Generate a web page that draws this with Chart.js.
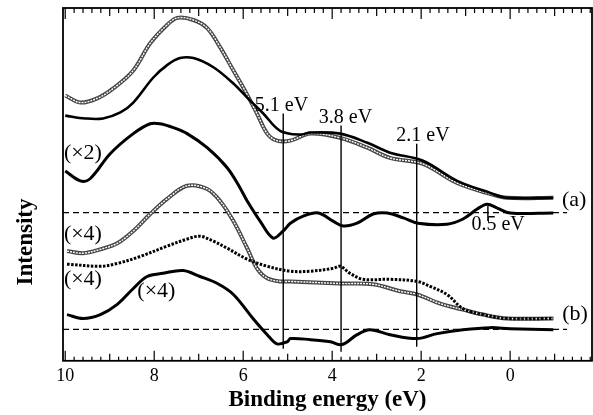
<!DOCTYPE html>
<html>
<head>
<meta charset="utf-8">
<script src="https://cdn.jsdelivr.net/npm/chart.js@4"></script>
<style>
  html, body { margin: 0; padding: 0; background: #fff; }
</style>
</head>
<body>
<canvas id="chart" width="593" height="415"></canvas>
<script>
// ===== Data (binding energy in eV, intensity in arb. units) =====
// (a) spectrum, open circles
const openA_E = [10.0, 9.66, 9.28, 8.92, 8.47, 8.09, 7.71, 7.48, 7.12, 6.81, 6.52, 6.22, 6.0, 5.69, 5.46, 5.24, 4.94, 4.49, 3.82, 3.21, 2.70, 1.96, 1.19, 0.45, 0.07, -0.97];
const openA_I = [75.2, 73.2, 74.4, 77.2, 82.3, 90.0, 95.2, 97.2, 96.6, 94.3, 88.9, 82.3, 77.5, 70.1, 64.4, 62.4, 62.4, 64.4, 63.2, 60.4, 57.5, 55.8, 50.4, 47.3, 46.2, 46.2];
// (a) spectrum, solid line
const solidA_E = [10.0, 9.55, 9.15, 8.76, 8.47, 8.02, 7.71, 7.42, 7.12, 6.67, 6.22, 5.91, 5.55, 5.17, 4.72, 4.49, 3.82, 3.21, 2.70, 1.96, 1.19, 0.45, 0.07, -0.97];
const solidA_I = [69.5, 68.7, 68.7, 70.4, 73.2, 80.3, 83.8, 85.8, 85.8, 83.2, 78.6, 74.6, 70.1, 65.2, 64.1, 64.7, 64.4, 61.8, 59.0, 56.7, 51.0, 47.6, 46.2, 46.2];
// (a) difference (x2)
const diffA_E = [10.0, 9.66, 9.44, 8.99, 8.47, 8.09, 7.87, 7.57, 7.26, 6.81, 6.36, 6.07, 5.91, 5.62, 5.33, 5.10, 4.94, 4.65, 4.31, 3.98, 3.75, 3.44, 3.08, 2.76, 2.40, 2.07, 1.42, 1.06, 0.74, 0.52, 0.29, 0.0, -0.97];
const diffA_I = [53.8, 51.0, 51.6, 58.7, 64.4, 67.2, 67.2, 66.1, 64.4, 60.4, 54.7, 49.0, 45.3, 39.6, 34.8, 36.8, 39.0, 41.0, 41.9, 39.6, 38.2, 39.0, 41.6, 41.9, 40.5, 39.0, 38.7, 40.2, 43.0, 44.4, 43.3, 41.9, 41.9];
// (b) spectrum, open circles (x4)
const openB_E = [9.96, 9.60, 9.21, 8.83, 8.47, 8.09, 7.71, 7.26, 6.81, 6.52, 6.22, 5.91, 5.69, 5.46, 5.17, 4.94, 3.82, 3.08, 2.47, 2.09, 1.57, 1.06, 0.61, 0.07, -0.97];
const openB_I = [31.1, 30.5, 31.6, 33.3, 36.8, 41.6, 45.9, 49.6, 48.7, 45.3, 39.6, 31.9, 26.2, 23.4, 22.5, 22.5, 21.9, 21.7, 19.7, 18.8, 16.2, 14.5, 13.1, 12.0, 12.0];
// (b) spectrum, dots (x4)
const dotB_E = [9.96, 9.21, 8.83, 8.31, 7.71, 7.26, 6.97, 6.67, 6.36, 5.91, 5.46, 4.94, 4.49, 3.98, 3.82, 3.60, 3.30, 2.70, 2.09, 1.80, 1.42, 1.06, 0.61, 0.07, -0.97];
const dotB_I = [27.4, 26.8, 27.6, 29.6, 32.5, 34.5, 35.3, 33.9, 31.9, 28.8, 26.8, 25.4, 25.4, 26.2, 26.8, 24.8, 23.1, 23.1, 22.5, 21.1, 18.8, 14.8, 13.1, 12.0, 12.0];
// (b) difference (x4)
const diffB_E = [9.96, 9.60, 9.21, 8.83, 8.47, 8.16, 7.80, 7.35, 6.97, 6.58, 6.22, 5.78, 5.46, 5.24, 5.01, 4.94, 4.49, 4.04, 3.78, 3.44, 3.15, 2.70, 2.09, 1.64, 1.06, 0.45, 0.0, -0.97];
const diffB_I = [13.1, 12.0, 13.1, 16.0, 20.5, 23.9, 24.8, 25.6, 23.9, 21.9, 18.8, 12.0, 7.4, 4.8, 5.4, 6.3, 6.0, 5.4, 4.6, 7.4, 8.8, 7.4, 6.3, 7.7, 8.8, 9.4, 9.1, 8.8];

// zero levels of the difference curves
const baseA = 42.0;
const baseB = 8.9;
const baseSpan = [10.05, -1.28];

// marked energies: [eV, bottom, top]
const markLines = [[5.1, 3.4, 70.1], [3.8, 2.6, 66.7], [2.1, 4.0, 61.5]];
const peakMark = [0.5, 39.6, 43.9];

// axis ticks every 0.2 eV, labels on even values
const tickVals = [];
for (let k = -9; k <= 50; k++) tickVals.push(k / 5);
const tickLabels = [10, 8, 6, 4, 2, 0];

const pts = (xs, ys) => xs.map((e, i) => ({ x: e, y: ys[i] }));

const serif = "'Liberation Serif', 'Times New Roman', serif";

// ===== Frame, inward ticks and annotations =====
const annotations = {
    id: 'annotations',
    afterDatasetsDraw(chart) {
        const { ctx, chartArea: a, scales: { x, y } } = chart;
        ctx.save();
        ctx.strokeStyle = '#000';
        ctx.lineWidth = 1.8;
        ctx.strokeRect(a.left, a.top, a.right - a.left, a.bottom - a.top);

        ctx.lineWidth = 1.2;
        tickVals.forEach(v => {
            const px = x.getPixelForValue(v);
            const n = Math.round(v * 5);
            let len = 4;
            if (n % 10 === 0) len = 10;
            else if (n % 5 === 0) len = 7;
            ctx.beginPath();
            ctx.moveTo(px, a.bottom);
            ctx.lineTo(px, a.bottom - len);
            ctx.moveTo(px, a.top);
            ctx.lineTo(px, a.top + len + 1);
            ctx.stroke();
        });

        ctx.fillStyle = '#000';
        const texts = [
            ['5.1 eV', 5.14, 70.7, 'center', 'alphabetic', 20],
            ['3.8 eV', 3.70, 67.5, 'center', 'alphabetic', 20],
            ['2.1 eV', 1.96, 62.4, 'center', 'alphabetic', 20],
            ['0.5 eV', 0.27, 37.0, 'center', 'alphabetic', 20],
            ['(a)', -1.44, 45.6, 'center', 'middle', 22],
            ['(b)', -1.46, 13.1, 'center', 'middle', 22],
            ['(\u00d72)', 10.03, 58.7, 'left', 'middle', 22],
            ['(\u00d74)', 10.03, 35.9, 'left', 'middle', 22],
            ['(\u00d74)', 10.03, 23.1, 'left', 'middle', 22],
            ['(\u00d74)', 8.38, 19.7, 'left', 'middle', 22]
        ];
        texts.forEach(([t, ev, v, al, bl, sz]) => {
            ctx.font = sz + 'px ' + serif;
            ctx.textAlign = al;
            ctx.textBaseline = bl;
            ctx.fillText(t, x.getPixelForValue(ev), y.getPixelForValue(v));
        });

        ctx.font = 'bold 23px ' + serif;
        ctx.translate(26, 242);
        ctx.rotate(-Math.PI / 2);
        ctx.textAlign = 'center';
        ctx.textBaseline = 'middle';
        ctx.fillText('Intensity', 0, 0);
        ctx.restore();
    }
};

const line = (data, color, width, extra) => Object.assign({
    data: data,
    borderColor: color,
    borderWidth: width,
    pointRadius: 0,
    tension: 0.35,
    fill: false
}, extra || {});

new Chart(document.getElementById('chart'), {
    type: 'line',
    data: {
        datasets: [
            line(pts(openA_E, openA_I), '#444444', 4, { order: 6 }),
            line(pts(openA_E, openA_I), '#ffffff', 1.4, { order: 5, borderDash: [2, 1] }),
            line(pts(solidA_E, solidA_I), '#000', 2.6, { order: 4 }),
            line(pts(diffA_E, diffA_I), '#000', 3, { order: 4 }),
            line(pts(openB_E, openB_I), '#444444', 4, { order: 6 }),
            line(pts(openB_E, openB_I), '#ffffff', 1.4, { order: 5, borderDash: [2, 1] }),
            line(pts(dotB_E, dotB_I), '#000', 3, { order: 3, borderDash: [2.5, 1.5] }),
            line(pts(diffB_E, diffB_I), '#000', 3, { order: 4 }),
            line(pts(baseSpan, [baseA, baseA]), '#000', 1.3, { order: 7, borderDash: [6, 4], tension: 0 }),
            line(pts(baseSpan, [baseB, baseB]), '#000', 1.3, { order: 7, borderDash: [6, 4], tension: 0 }),
            ...markLines.map(m => line(pts([m[0], m[0]], [m[1], m[2]]), '#000', 1.4, { order: 2, tension: 0 })),
            line(pts([peakMark[0], peakMark[0]], [peakMark[1], peakMark[2]]), '#000', 1.4, { order: 2, tension: 0 })
        ]
    },
    options: {
        responsive: false,
        animation: false,
        devicePixelRatio: 1,
        layout: { padding: { left: 63, right: 1, top: 8, bottom: 1 } },
        plugins: { legend: { display: false }, tooltip: { enabled: false } },
        scales: {
            x: {
                type: 'linear',
                reverse: true,
                min: -1.84,
                max: 10.05,
                afterBuildTicks: scale => { scale.ticks = tickVals.map(v => ({ value: v })); },
                grid: { display: false, drawTicks: false },
                border: { display: false },
                ticks: {
                    autoSkip: false,
                    maxRotation: 0,
                    padding: 5,
                    color: '#000',
                    font: { family: serif, size: 18 },
                    callback: v => {
                        const r = Math.round(v);
                        return (Math.abs(v - r) < 1e-6 && tickLabels.includes(r)) ? String(r) : '';
                    }
                },
                title: {
                    display: true,
                    text: 'Binding energy (eV)',
                    color: '#000',
                    font: { family: serif, size: 23, weight: 'bold' },
                    padding: { top: -6, bottom: 0 }
                }
            },
            y: { display: false, min: 0, max: 100 }
        }
    },
    plugins: [annotations]
});
</script>
</body>
</html>
